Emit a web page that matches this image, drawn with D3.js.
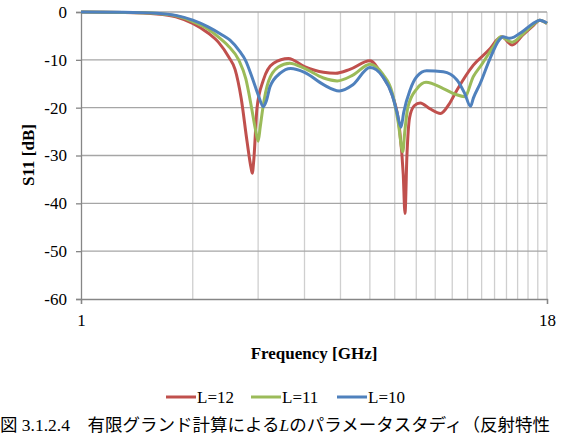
<!DOCTYPE html>
<html>
<head>
<meta charset="utf-8">
<script src="https://cdn.jsdelivr.net/npm/d3@7"></script>
<style>
  body { margin: 0; background: #fff; }
  svg { display: block; }
  text { font-family: "Liberation Serif", "Times New Roman", serif; fill: #000; }
  .caption { font-family: "Liberation Serif", "Noto Sans CJK JP", serif; }
</style>
</head>
<body>
<div id="chart"></div>
<script>
(function() {

  var width = 564, height = 442;
  var margin = { top: 12, right: 17, bottom: 143, left: 81 };

  // L=12
  var l12Freq = [1, 1.3, 1.6, 1.8, 2.0, 2.2, 2.35, 2.5, 2.6, 2.7, 2.8, 2.87, 2.893, 2.92, 2.98, 3.1, 3.3, 3.62, 4.0, 4.5, 4.85, 5.3, 6.0, 6.5, 6.9, 7.2, 7.38, 7.46, 7.55, 7.68, 7.9, 8.2, 8.7, 9.3, 9.8, 10.3, 11.4, 12.6, 13.3, 13.6, 14.5, 15.5, 16.5, 17.2, 18];
  var l12S11 = [0, -0.1, -0.4, -1.0, -2.4, -4.4, -6.4, -9.4, -12, -18, -27, -32.5, -33.7, -31, -20, -14.2, -10.7, -9.7, -11.4, -12.6, -12.8, -12.0, -10.2, -13.5, -17.4, -24, -34, -42.1, -30, -22, -19.6, -19.0, -20.2, -21.2, -19.3, -16.3, -11.1, -7.8, -5.6, -5.2, -6.9, -4.8, -2.9, -1.7, -2.4];

  // L=11
  var l11Freq = [1, 1.3, 1.6, 1.8, 2.0, 2.2, 2.4, 2.5, 2.66, 2.78, 2.88, 2.95, 3.0, 3.04, 3.09, 3.2, 3.4, 3.65, 4.0, 4.5, 4.9, 5.4, 6.0, 6.5, 6.9, 7.15, 7.36, 7.45, 7.6, 8.04, 8.5, 9.46, 10.2, 10.8, 11.4, 12.0, 12.9, 13.5, 14.5, 15.5, 16.5, 17.2, 18];
  var l11S11 = [0, -0.1, -0.3, -0.8, -2.0, -3.6, -5.9, -7.2, -10, -14, -20, -24.5, -27.0, -24, -20, -14.5, -11.5, -10.7, -11.8, -13.8, -14.4, -13.2, -10.9, -13.0, -17, -23, -29.2, -25, -19.8, -16.0, -14.7, -16.0, -17.2, -17.7, -13.5, -11.0, -7.3, -5.2, -6.3, -4.6, -2.7, -1.7, -2.4];

  // L=10
  var l10Freq = [1, 1.3, 1.6, 1.8, 2.0, 2.2, 2.4, 2.52, 2.68, 2.77, 2.9, 3.0, 3.1, 3.16, 3.23, 3.44, 3.67, 4.0, 4.5, 4.96, 5.4, 6.0, 6.5, 6.9, 7.1, 7.28, 7.4, 7.7, 8.03, 8.53, 9.46, 10.3, 10.8, 11.2, 11.4, 11.9, 12.6, 13.4, 13.7, 14.3, 15.5, 16.5, 17.2, 18];
  var l10S11 = [0, -0.05, -0.25, -0.7, -1.7, -3.1, -4.8, -5.9, -8.3, -10, -14, -17.3, -19.8, -18.5, -15.6, -12.8, -11.8, -12.6, -15.2, -16.5, -15.2, -11.6, -13.5, -17.5, -21, -24.1, -21, -16.3, -13.5, -12.3, -12.5, -14.2, -17.0, -19.7, -18.0, -14.9, -10.0, -5.8, -5.2, -5.5, -4.0, -2.4, -1.7, -2.3];

  var seriesNames = ["L=12", "L=11", "L=10"];
  var seriesColors = ["#C0504D", "#9BBB59", "#4F81BD"];
  var yTicks = [0, -10, -20, -30, -40, -50, -60];
  var xGrid = d3.range(2, 19);
  var xTickLabels = [1, 18];

  var series = [
    { name: seriesNames[0], color: seriesColors[0], freq: l12Freq, s11: l12S11 },
    { name: seriesNames[1], color: seriesColors[1], freq: l11Freq, s11: l11S11 },
    { name: seriesNames[2], color: seriesColors[2], freq: l10Freq, s11: l10S11 }
  ];

  var serif = "'Liberation Serif', 'Times New Roman', serif";

  var svg = d3.select("#chart").append("svg")
    .attr("width", width)
    .attr("height", height);

  var x = d3.scaleLog()
    .domain([1, 18])
    .range([margin.left, width - margin.right]);

  var y = d3.scaleLinear()
    .domain([-60, 0])
    .range([height - margin.bottom, margin.top]);

  //vertical gridlines
  svg.selectAll("line.vgrid")
    .data(xGrid)
    .enter().append("line")
    .attr("class", "vgrid")
    .attr("x1", function(d) { return x(d); })
    .attr("x2", function(d) { return x(d); })
    .attr("y1", y(0))
    .attr("y2", y(-60))
    .attr("stroke", "#CFCFCF")
    .attr("stroke-width", 1.3);

  //horizontal gridlines
  svg.selectAll("line.hgrid")
    .data(yTicks.filter(function(d) { return d > -60; }))
    .enter().append("line")
    .attr("class", "hgrid")
    .attr("x1", x(1))
    .attr("x2", x(18))
    .attr("y1", function(d) { return y(d); })
    .attr("y2", function(d) { return y(d); })
    .attr("stroke", "#A6A6A6")
    .attr("stroke-width", 1.3);

  var plainNum = function(d) { return String(d); };

  //y axis
  var yAxis = svg.append("g")
    .attr("transform", "translate(" + x(1) + ",0)")
    .call(d3.axisLeft(y).tickValues(yTicks).tickSize(5).tickPadding(9).tickFormat(plainNum));
  yAxis.attr("font-family", serif).attr("font-size", 17);
  yAxis.select(".domain").attr("stroke", "#868686").attr("stroke-width", 1.3);
  yAxis.selectAll(".tick line").attr("stroke", "#868686").attr("stroke-width", 1.3);
  yAxis.selectAll(".tick text").attr("fill", "#000");

  //x axis
  var xAxis = svg.append("g")
    .attr("transform", "translate(0," + y(-60) + ")")
    .call(d3.axisBottom(x).tickValues(xTickLabels).tickSize(5).tickPadding(10).tickFormat(plainNum));
  xAxis.attr("font-family", serif).attr("font-size", 17);
  xAxis.select(".domain").attr("stroke", "#868686").attr("stroke-width", 1.3);
  xAxis.selectAll(".tick line").attr("stroke", "#868686").attr("stroke-width", 1.3);
  xAxis.selectAll(".tick text").attr("fill", "#000");

  //curves
  var line = d3.line()
    .x(function(d) { return x(d[0]); })
    .y(function(d) { return y(d[1]); })
    .curve(d3.curveMonotoneX);

  svg.selectAll("path.curve")
    .data(series)
    .enter().append("path")
    .attr("class", "curve")
    .attr("fill", "none")
    .attr("stroke", function(d) { return d.color; })
    .attr("stroke-width", 3)
    .attr("stroke-linejoin", "round")
    .attr("d", function(d) { return line(d3.zip(d.freq, d.s11)); });

  //axis titles
  svg.append("text")
    .attr("transform", "translate(34,155) rotate(-90)")
    .attr("text-anchor", "middle")
    .style("font-size", "17px")
    .style("font-weight", "bold")
    .text("S11 [dB]");

  svg.append("text")
    .attr("x", 314)
    .attr("y", 359)
    .attr("text-anchor", "middle")
    .style("font-size", "17px")
    .style("font-weight", "bold")
    .text("Frequency [GHz]");

  //legend
  var legendX = [166, 251, 337];
  var legend = svg.selectAll("g.legend")
    .data(series)
    .enter().append("g")
    .attr("class", "legend")
    .attr("transform", function(d, i) { return "translate(" + legendX[i] + ",397)"; });
  legend.append("line")
    .attr("x1", 0).attr("x2", 30)
    .attr("stroke", function(d) { return d.color; })
    .attr("stroke-width", 3);
  legend.append("text")
    .attr("x", 31)
    .attr("y", 6)
    .style("font-size", "17px")
    .text(function(d) { return d.name; });

  //caption (the reference crops it at the right edge, after 反射特性)
  var caption = svg.append("text")
    .attr("class", "caption")
    .attr("x", 0)
    .attr("y", 431)
    .style("font-size", "17.5px");
  caption.append("tspan").text("図 3.1.2.4　有限グランド計算による");
  caption.append("tspan").style("font-style", "italic").text("L");
  caption.append("tspan").text("のパラメータスタディ（反射特性");

})();
</script>
</body>
</html>
